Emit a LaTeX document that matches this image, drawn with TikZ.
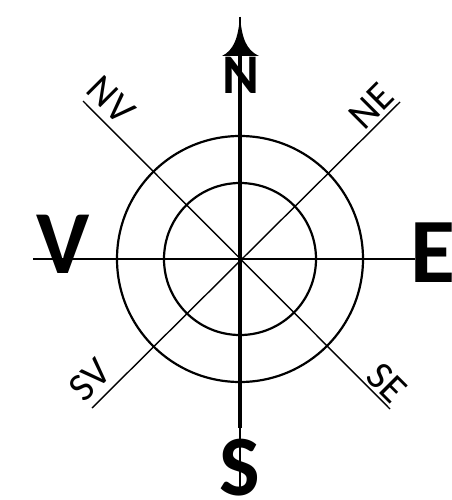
\documentclass[tikz,border=0pt]{standalone}
\usepackage{fontspec}
\setmainfont{Carlito}
\begin{document}
\begin{tikzpicture}[x=1pt,y=-1pt,
  thinline/.style={line width=1.4pt},
  ring/.style={line width=2.2pt},
  bigletter/.style={font=\fontsize{90}{90}\selectfont\bfseries, inner sep=0pt},
  smalllabel/.style={font=\fontsize{40}{40}\selectfont, inner sep=0pt}]
\useasboundingbox (0,0) rectangle (451,500);
\coordinate (c) at (240,259);
% circles
\draw[ring] (c) circle (123);
\draw[ring] (c) circle (76);
% coordinates
\coordinate (top) at (240,17);
\coordinate (base) at (240,55);
\coordinate (thickend) at (240,428);
\coordinate (bottom) at (240,490);
\coordinate (west) at (33,259);
\coordinate (east) at (415,259);
\coordinate (nw) at (83,101);
\coordinate (se) at (390,409);
\coordinate (ne) at (400,102);
\coordinate (sw) at (92,408);
% lines
\draw[thinline] (west) -- (east);
\draw[thinline] (nw) -- (se);
\draw[thinline] (ne) -- (sw);
\draw[thinline] (top) -- (bottom);
\draw[line width=4.5pt] (base) -- (thickend);
% arrowhead
\fill (240,17) .. controls (242,38) and (246,50) .. (259,56) -- (222,56)
  .. controls (234,50) and (238,38) .. (240,17) -- cycle;
% letters
\node[bigletter] (V) at (63,244) {V};
\node[bigletter, font=\fontsize{92}{92}\selectfont\bfseries] (E) at (433,253) {E};
\node[bigletter, font=\fontsize{86}{86}\selectfont\bfseries] (S) at (240,468) {S};
\node[bigletter, font=\fontsize{56}{56}\selectfont\bfseries] (N) at (241,75) {N};
\node[smalllabel, rotate=-45] (NVl) at (111,100) {NV};
\node[smalllabel, rotate=45] (NEl) at (371,106) {NE};
\node[smalllabel, rotate=45] (SVl) at (90,380) {SV};
\node[smalllabel, rotate=-45] (SEl) at (387,383) {SE};
\end{tikzpicture}
\end{document}
